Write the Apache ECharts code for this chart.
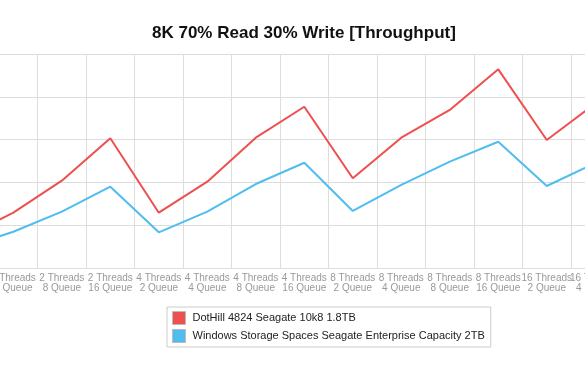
<!DOCTYPE html>
<html><head><meta charset="utf-8">
<script src="https://cdn.jsdelivr.net/npm/echarts@6/dist/echarts.min.js"></script>
<style>html,body{margin:0;padding:0;background:#fff}#c{width:585px;height:374px}</style>
</head><body><div id="c"></div>
<script>
const categories = [
  '2 Threads\n2 Queue','2 Threads\n4 Queue','2 Threads\n8 Queue','2 Threads\n16 Queue',
  '4 Threads\n2 Queue','4 Threads\n4 Queue','4 Threads\n8 Queue','4 Threads\n16 Queue',
  '8 Threads\n2 Queue','8 Threads\n4 Queue','8 Threads\n8 Queue','8 Threads\n16 Queue',
  '16 Threads\n2 Queue','16 Threads\n4 Queue'
];
const dotHill = [36.4, 64.6, 102, 151.5, 64.6, 100.8, 152.2, 188.4, 104.8, 152.2, 184.6, 232.1, 149.5, 192.1];
const storageSpaces = [23.4, 42.4, 65.8, 95, 41.7, 65.8, 98.1, 123, 66.6, 97, 124.2, 147.5, 95.8, 122.6];
const yTicks = [0, 50, 100, 150, 200, 250];
const seriesNames = ['DotHill 4824 Seagate 10k8 1.8TB', 'Windows Storage Spaces Seagate Enterprise Capacity 2TB'];

const font = 'Liberation Sans, Arial, Helvetica, sans-serif';
const chart = echarts.init(document.getElementById('c'));
chart.setOption({
  animation: false,
  textStyle: { fontFamily: font },
  title: {
    text: '8K 70% Read 30% Write [Throughput]',
    left: 147, top: 20,
    textStyle: { fontSize: 17, fontWeight: 'bold', color: '#111', fontFamily: font }
  },
  legend: {
    orient: 'vertical', left: 167, top: 307,
    padding: [4, 6, 4, 5], itemGap: 4,
    itemWidth: 13, itemHeight: 13, icon: 'rect',
    borderColor: '#ccc', borderWidth: 1,
    itemStyle: { borderColor: '#bbb', borderWidth: 1 },
    textStyle: { fontSize: 11, color: '#222', fontFamily: font, padding: [0, 0, 0, 2] },
    data: seriesNames
  },
  grid: { left: -59.4, right: -34.5, top: 54, bottom: 106, outerBoundsMode: 'none', containLabel: false },
  xAxis: {
    type: 'category', data: categories, boundaryGap: true,
    axisLine: { lineStyle: { color: '#ddd' } },
    axisTick: { show: false },
    axisLabel: { interval: 0, fontSize: 10, lineHeight: 10, color: '#999', margin: 5, fontFamily: font },
    splitLine: { show: true, interval: 0, lineStyle: { color: '#ddd', width: 1 } }
  },
  yAxis: {
    type: 'value', min: yTicks[0], max: yTicks[yTicks.length - 1], interval: yTicks[1] - yTicks[0],
    axisLabel: { show: false }, axisLine: { show: false }, axisTick: { show: false },
    splitLine: { lineStyle: { color: '#ddd', width: 1 } }
  },
  series: [
    { name: seriesNames[0], type: 'line', data: dotHill, symbol: 'none',
      lineStyle: { width: 2, color: '#ee4f4f' }, itemStyle: { color: '#ee4f4f' } },
    { name: seriesNames[1], type: 'line', data: storageSpaces, symbol: 'none',
      lineStyle: { width: 2, color: '#4fbdf0' }, itemStyle: { color: '#4fbdf0' } }
  ]
});
</script></body></html>
